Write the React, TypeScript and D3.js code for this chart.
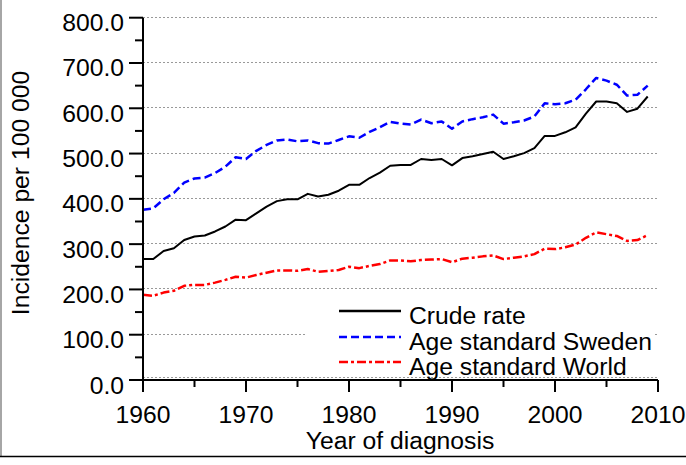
import React from "react";
import * as d3 from "d3";

const years: number[] = d3.range(1960, 2010);
const crudeRate: number[] = [
  267, 267, 285, 291, 309, 317, 319, 328, 339, 354,
  353, 368, 383, 395, 399, 399, 411, 405, 409, 418,
  431, 431, 446, 458, 473, 475, 475, 488, 486, 488,
  474, 490, 494, 499, 504, 488, 494, 501, 512, 539,
  539, 547, 558, 588, 615, 615, 611, 592, 599, 626,
];
const ageStdSweden: number[] = [
  376, 379, 399, 413, 436, 445, 447, 457, 471, 492,
  488, 506, 519, 529, 531, 527, 529, 523, 522, 530,
  538, 535, 548, 558, 570, 566, 564, 575, 567, 571,
  555, 571, 576, 580, 586, 566, 569, 573, 582, 611,
  609, 611, 619, 642, 667, 661, 652, 628, 630, 650,
];
const ageStdWorld: number[] = [
  188, 186, 193, 197, 208, 210, 210, 215, 221, 228,
  226, 232, 237, 242, 242, 241, 245, 239, 241, 243,
  250, 247, 252, 256, 264, 264, 262, 265, 266, 267,
  260, 268, 270, 273, 275, 267, 270, 273, 278, 290,
  289, 293, 299, 314, 326, 322, 318, 307, 309, 320,
];
const seriesNames: string[] = ["Crude rate", "Age standard Sweden", "Age standard World"];
const seriesColors: string[] = ["#000000", "#0000ff", "#ff0000"];
const seriesDash: string[] = ["none", "8,4", "9,3,3,3"];
const yTicks: number[] = [0, 100, 200, 300, 400, 500, 600, 700, 800];
const yMinorTicks: number[] = [50, 150, 250, 350, 450, 550, 650, 750];
const xTicks: number[] = [1960, 1970, 1980, 1990, 2000, 2010];
const xMinorTicks: number[] = [1965, 1975, 1985, 1995, 2005];
const xLabel = "Year of diagnosis";
const yLabel = "Incidence per 100 000";

const W = 686;
const H = 465;
const FONT = "'Liberation Sans', Arial, Helvetica, sans-serif";
const FS = 24.7;

export default function App() {
  const x = d3.scaleLinear().domain([1960, 2010]).range([143, 658]);
  const y = d3.scaleLinear().domain([0, 800]).range([380, 17.7]);
  const allSeries = [crudeRate, ageStdSweden, ageStdWorld];
  const line = d3
    .line<number>()
    .x((_, i) => x(years[i]))
    .y((d) => y(d));

  const legendY = [311, 337, 362];

  return (
    <svg
      width={W}
      height={H}
      style={{ position: "absolute", left: 0, top: 0, background: "#fff" }}
      fontFamily={FONT}
    >
      <rect x={0} y={0} width={W} height={H} fill="#fff" />
      {/* frame */}
      <line x1={1} y1={0} x2={1} y2={456} stroke="#888" strokeWidth={1.5} />
      <line x1={0} y1={456.5} x2={W} y2={456.5} stroke="#000" strokeWidth={1.5} />

      {/* grid */}
      {yTicks.map((t) => (
        <line
          key={"g" + t}
          x1={x(1960)}
          x2={x(2010)}
          y1={Math.round(y(t)) - 0.5 - (t === 0 ? 2 : 0)}
          y2={Math.round(y(t)) - 0.5 - (t === 0 ? 2 : 0)}
          stroke="#999"
          strokeWidth={1}
          strokeDasharray="2,2"
        />
      ))}

      {/* series */}
      {allSeries.map((s, i) => (
        <path
          key={"s" + i}
          d={line(s) || ""}
          fill="none"
          stroke={seriesColors[i]}
          strokeWidth={i === 0 ? 2 : 2.5}
          strokeDasharray={seriesDash[i]}
          strokeLinejoin="round"
        />
      ))}

      {/* legend */}
      <rect x={305} y={296} width={348} height={80} fill="#fff" />
      {seriesNames.map((n, i) => (
        <g key={"l" + i}>
          <line
            x1={339}
            x2={401}
            y1={legendY[i]}
            y2={legendY[i]}
            stroke={seriesColors[i]}
            strokeWidth={2.5}
            strokeDasharray={seriesDash[i]}
          />
          <text x={409} y={legendY[i] + 13} fontSize={FS} fill="#000">
            {n}
          </text>
        </g>
      ))}

      {/* axes */}
      <line x1={x(1960)} x2={x(2010)} y1={y(0)} y2={y(0)} stroke="#000" strokeWidth={2} />
      <line x1={x(1960)} x2={x(1960)} y1={y(800)} y2={y(0) + 12} stroke="#000" strokeWidth={2} />
      {yTicks.map((t) => (
        <g key={"yt" + t}>
          <line x1={x(1960) - 14} x2={x(1960)} y1={y(t)} y2={y(t)} stroke="#000" strokeWidth={2} />
          <text x={124} y={y(t) + 13.5} fontSize={FS} textAnchor="end" fill="#000">
            {t.toFixed(1)}
          </text>
        </g>
      ))}
      {yMinorTicks.map((t) => (
        <line key={"ym" + t} x1={x(1960) - 8} x2={x(1960)} y1={y(t)} y2={y(t)} stroke="#000" strokeWidth={2} />
      ))}
      {xTicks.map((t) => (
        <g key={"xt" + t}>
          <line x1={x(t)} x2={x(t)} y1={y(0)} y2={y(0) + 12} stroke="#000" strokeWidth={2} />
          <text x={x(t)} y={423} fontSize={FS} textAnchor="middle" fill="#000">
            {t}
          </text>
        </g>
      ))}
      {xMinorTicks.map((t) => (
        <line key={"xm" + t} x1={x(t)} x2={x(t)} y1={y(0)} y2={y(0) + 7} stroke="#000" strokeWidth={2} />
      ))}

      {/* axis titles */}
      <text x={400} y={449} fontSize={FS} textAnchor="middle" fill="#000">
        {xLabel}
      </text>
      <text
        transform={`translate(28.5,193) rotate(-90)`}
        fontSize={FS}
        textAnchor="middle"
        fill="#000"
      >
        {yLabel}
      </text>
    </svg>
  );
}
